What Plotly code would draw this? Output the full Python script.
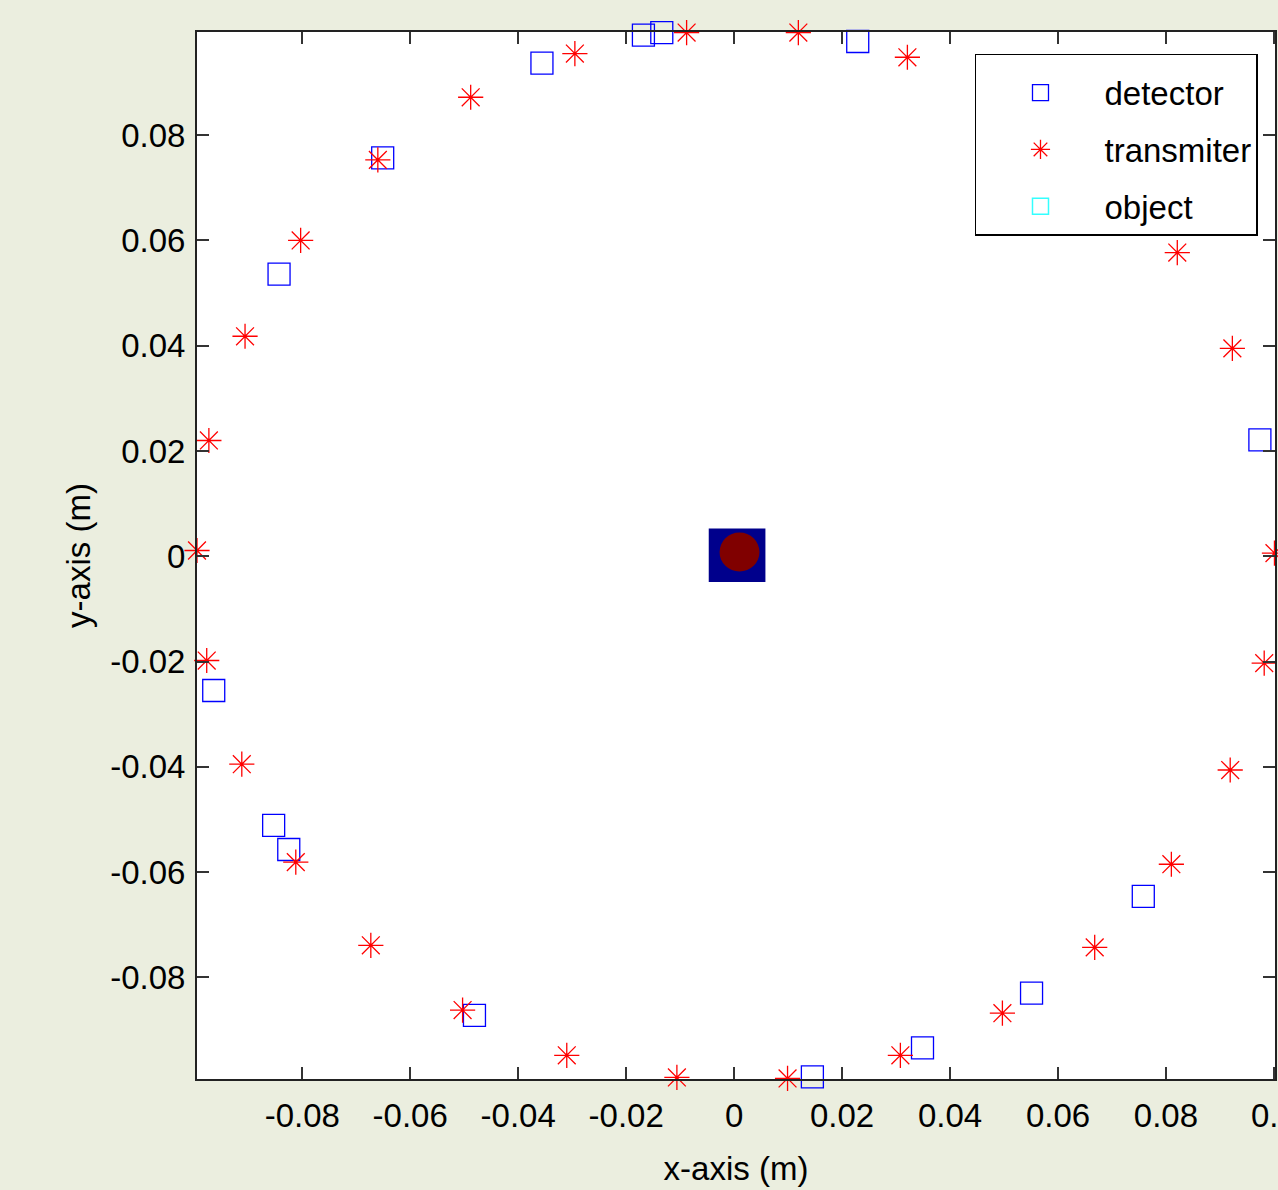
import plotly.graph_objects as go

# ---- data (metres) ----
transmitter_x = [-0.0088, 0.0119, 0.0321, -0.0295, -0.0488, -0.0660, -0.0803, -0.0906, -0.0973,
                 -0.0995, -0.0977, -0.0912, -0.0812, -0.0673, -0.0503, -0.0310, -0.0106, 0.0099,
                 0.0308, 0.0497, 0.0668, 0.0810, 0.0919, 0.0982, 0.1001, 0.0923, 0.0821]
transmitter_y = [0.0995, 0.0995, 0.0948, 0.0955, 0.0872, 0.0753, 0.0600, 0.0418, 0.0220,
                 0.0011, -0.0198, -0.0395, -0.0581, -0.0739, -0.0862, -0.0948, -0.0990, -0.0992,
                 -0.0948, -0.0868, -0.0743, -0.0585, -0.0406, -0.0203, 0.0006, 0.0395, 0.0577]

detector_x = [-0.0168, -0.0134, 0.0229, -0.0356, -0.0651, -0.0843, 0.0974, -0.0964,
              -0.0853, -0.0825, -0.0481, 0.0145, 0.0349, 0.0551, 0.0758]
detector_y = [0.0990, 0.0995, 0.0978, 0.0937, 0.0757, 0.0536, 0.0221, -0.0255,
              -0.0511, -0.0557, -0.0872, -0.0989, -0.0934, -0.0830, -0.0646]

# object: square background and circular inclusion
object_box_x = [-0.0047, 0.0058]
object_box_y = [-0.0049, 0.0053]
object_disk_center = [0.0010, 0.0008]
object_disk_radius = [0.0037]

x_ticks = [-0.08, -0.06, -0.04, -0.02, 0, 0.02, 0.04, 0.06, 0.08, 0.1]
x_ticklabels = ["-0.08", "-0.06", "-0.04", "-0.02", "0", "0.02", "0.04", "0.06", "0.08", "0.1"]
y_ticks = [-0.08, -0.06, -0.04, -0.02, 0, 0.02, 0.04, 0.06, 0.08]
y_ticklabels = ["-0.08", "-0.06", "-0.04", "-0.02", "0", "0.02", "0.04", "0.06", "0.08"]

FONT = "Liberation Sans, Arial, Helvetica, sans-serif"
BG = "#EBEEDF"

fig = go.Figure()

fig.add_trace(go.Scatter(
    x=detector_x, y=detector_y, mode="markers", name="detector",
    marker=dict(symbol="square-open", size=22, color="#0000FF", line=dict(width=1.3, color="#0000FF")),
    cliponaxis=False, legendgroup="d"))

fig.add_trace(go.Scatter(
    x=transmitter_x, y=transmitter_y, mode="markers", name="transmiter",
    marker=dict(symbol="asterisk-open", size=21, color="#FF0000", line=dict(width=1.3, color="#FF0000")),
    cliponaxis=False, legendgroup="t"))

# legend-only entry for the object
fig.add_trace(go.Scatter(
    x=[None], y=[None], mode="markers", name="object",
    marker=dict(symbol="square-open", size=30, color="#33FFFF", line=dict(width=1.5, color="#33FFFF")),
    legendgroup="o"))

fig.add_shape(type="rect", xref="x", yref="y",
              x0=object_box_x[0], x1=object_box_x[1], y0=object_box_y[0], y1=object_box_y[1],
              fillcolor="#00008C", line=dict(width=0), layer="above")
fig.add_shape(type="circle", xref="x", yref="y",
              x0=object_disk_center[0] - object_disk_radius[0], x1=object_disk_center[0] + object_disk_radius[0],
              y0=object_disk_center[1] - object_disk_radius[0], y1=object_disk_center[1] + object_disk_radius[0],
              fillcolor="#800000", line=dict(width=0), layer="above")

axis_common = dict(
    showgrid=False, zeroline=False, showline=True, linecolor="#222222", linewidth=2,
    mirror="ticks", ticks="inside", ticklen=12, tickwidth=1.5, tickcolor="#333333",
    tickfont=dict(family=FONT, size=33, color="black"), automargin=False,
)

fig.update_xaxes(range=[-0.0995, 0.1002], tickvals=x_ticks, ticktext=x_ticklabels,
                 ticklabeloverflow="allow", ticklabelstandoff=6,
                 title=dict(text="x-axis (m)", font=dict(family=FONT, size=33, color="black"), standoff=24),
                 **axis_common)
fig.update_yaxes(range=[-0.0993, 0.0996], tickvals=y_ticks, ticktext=y_ticklabels,
                 title=dict(text="y-axis (m)", font=dict(family=FONT, size=33, color="black"), standoff=10),
                 ticklabelstandoff=3, **axis_common)

fig.update_layout(
    width=1278, height=1190, autosize=False,
    margin=dict(l=197, r=3, t=32, b=111),
    paper_bgcolor=BG, plot_bgcolor="white",
    showlegend=True,
    legend=dict(x=0.7217, y=0.979, xanchor="left", yanchor="top",
                bgcolor="white", bordercolor="black", borderwidth=1.5,
                font=dict(family=FONT, size=33, color="black"),
                title=dict(text=" ", font=dict(size=7)),
                itemwidth=118, tracegroupgap=11, itemsizing="trace"),
)

fig.write_html(
    "out.html",
    config={"displayModeBar": False},
    post_script="document.body.style.margin='0';document.body.style.background='" + BG + "';",
)
